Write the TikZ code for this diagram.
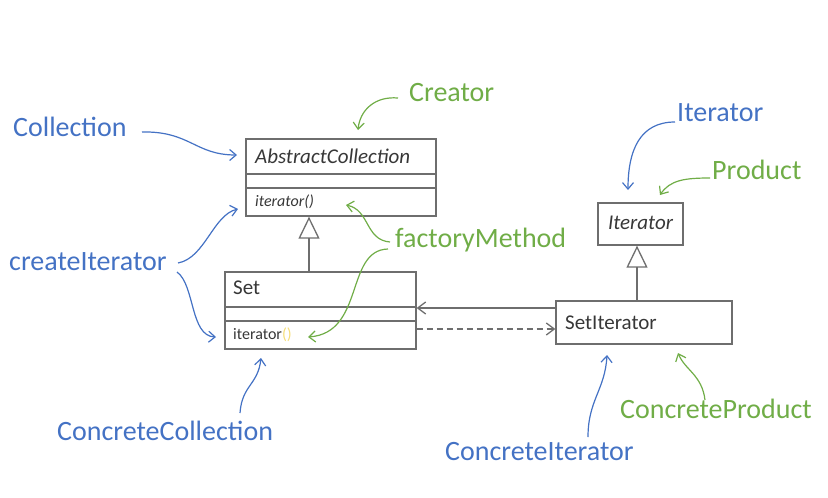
\documentclass[tikz,border=0pt]{standalone}
\usepackage{fontspec}
\setmainfont{Carlito}
\usetikzlibrary{arrows.meta}
\definecolor{cblue}{RGB}{68,114,196}
\definecolor{cgreen}{RGB}{112,173,71}
\definecolor{boxgray}{RGB}{110,110,110}
\definecolor{boxtext}{RGB}{55,55,55}
\definecolor{parenyellow}{RGB}{245,222,120}
\tikzset{
  umlbox/.style={draw=boxgray, line width=1.3pt, inner sep=0pt},
  lblfont/.style={font=\fontsize{28}{30}\selectfont, inner sep=0pt, anchor=west},
  bluelbl/.style={lblfont, text=cblue},
  greenlbl/.style={lblfont, text=cgreen},
  boxtitle/.style={font=\fontsize{21}{23}\selectfont, text=boxtext, inner sep=0pt, anchor=west},
  boxmethod/.style={font=\fontsize{16}{18}\selectfont, text=boxtext, inner sep=0pt, anchor=west},
  divider/.style={draw=boxgray, line width=1.3pt},
  inherit/.style={draw=boxgray, line width=1.3pt, -{Triangle[open, length=22pt, width=21pt, line width=1.3pt]}},
  assoc/.style={draw=boxgray, line width=1.3pt, -{Straight Barb[length=8pt, width=12pt, line width=1.3pt]}},
  blueanno/.style={draw=cblue, line width=1.2pt, -{Straight Barb[length=6.5pt, width=11pt, line width=1.2pt]}},
  greenanno/.style={draw=cgreen, line width=1.2pt, -{Straight Barb[length=6.5pt, width=11pt, line width=1.2pt]}},
}
\begin{document}
\begin{tikzpicture}[x=1pt, y=-1pt]
\useasboundingbox (0,0) rectangle (828,498);

% ---- UML boxes ----
\node[umlbox, minimum width=190pt, minimum height=77pt] (ac) at (341,177.5) {};
\node[boxtitle, font=\fontsize{21}{23}\selectfont\itshape] (actitle) at (255,156) {AbstractCollection};
\node[boxmethod, font=\fontsize{16}{18}\selectfont\itshape] (acmeth) at (255,202) {iterator()};
\coordinate (acd1) at (0,174);
\coordinate (acd2) at (0,188);
\draw[divider] (ac.west |- acd1) -- (ac.east |- acd1);
\draw[divider] (ac.west |- acd2) -- (ac.east |- acd2);

\node[umlbox, minimum width=191pt, minimum height=77pt] (set) at (320.5,310.5) {};
\node[boxtitle] (settitle) at (233,288) {Set};
\node[boxmethod] (setmeth) at (233,335) {iterator{\color{parenyellow}()}};
\coordinate (setd1) at (0,307);
\coordinate (setd2) at (0,321);
\draw[divider] (set.west |- setd1) -- (set.east |- setd1);
\draw[divider] (set.west |- setd2) -- (set.east |- setd2);

\node[umlbox, minimum width=85pt, minimum height=42pt] (it) at (640.5,224) {};
\node[boxtitle, anchor=center, font=\fontsize{21}{23}\selectfont\itshape] (ittitle) at (640.5,223) {Iterator};

\node[umlbox, minimum width=176pt, minimum height=43pt] (si) at (644,322.5) {};
\node[boxtitle] (sititle) at (565,323) {SetIterator};

% ---- UML relations ----
\coordinate (inhA) at (309,0);
\coordinate (inhB) at (637,0);
\draw[inherit] (set.north -| inhA) -- (ac.south -| inhA);
\draw[inherit] (si.north -| inhB) -- (it.south -| inhB);
\coordinate (assocY) at (0,308);
\coordinate (depY) at (0,329);
\draw[assoc] (si.west |- assocY) -- (set.east |- assocY);
\draw[assoc, dashed, dash pattern=on 6pt off 4pt] (set.east |- depY) -- (si.west |- depY);

% ---- labels ----
\node[bluelbl] (lcoll) at (13,127) {Collection};
\node[greenlbl] (lcreator) at (409,93) {Creator};
\node[bluelbl] (liter) at (677,113) {Iterator};
\node[greenlbl] (lprod) at (712,170) {Product};
\node[bluelbl] (lcreate) at (9,262) {createIterator};
\node[greenlbl] (lfactory) at (395,240) {factoryMethod};
\node[bluelbl] (lcc) at (57,431) {ConcreteCollection};
\node[bluelbl] (lci) at (445,452) {ConcreteIterator};
\node[greenlbl] (lcp) at (620,409) {ConcreteProduct};

% ---- annotation arrows ----
\coordinate (a1s) at (142,132); \coordinate (a1e) at (237,155);
\draw[blueanno] (a1s) .. controls (190,131) and (195,155) .. (a1e);

\coordinate (a2s) at (398,98); \coordinate (a2e) at (358,130);
\draw[greenanno] (a2s) .. controls (375,96) and (360,110) .. (a2e);

\coordinate (a3s) at (178,263); \coordinate (a3e) at (238,209);
\draw[blueanno] (a3s) .. controls (205,258) and (213,215) .. (a3e);

\coordinate (a4s) at (177,272); \coordinate (a4e) at (216,337);
\draw[blueanno] (a4s) .. controls (195,285) and (190,336) .. (a4e);

\coordinate (a5s) at (390,242); \coordinate (a5e) at (346,205);
\draw[greenanno] (a5s) .. controls (365,240) and (370,210) .. (a5e);

\coordinate (a6s) at (388,249); \coordinate (a6e) at (308,337);
\draw[greenanno] (a6s) .. controls (345,250) and (365,333) .. (a6e);

\coordinate (a7s) at (675,122); \coordinate (a7e) at (628,190);
\draw[blueanno] (a7s) .. controls (640,122) and (628,150) .. (a7e);

\coordinate (a8s) at (710,178); \coordinate (a8e) at (660,195);
\draw[greenanno] (a8s) .. controls (685,178) and (670,180) .. (a8e);

\coordinate (a9s) at (240,413); \coordinate (a9e) at (261,358);
\draw[blueanno] (a9s) .. controls (242,385) and (258,385) .. (a9e);

\coordinate (a10s) at (588,437); \coordinate (a10e) at (607,355);
\draw[blueanno] (a10s) .. controls (588,400) and (605,390) .. (a10e);

\coordinate (a11s) at (705,400); \coordinate (a11e) at (678,353);
\draw[greenanno] (a11s) .. controls (702,375) and (685,370) .. (a11e);
\end{tikzpicture}
\end{document}
